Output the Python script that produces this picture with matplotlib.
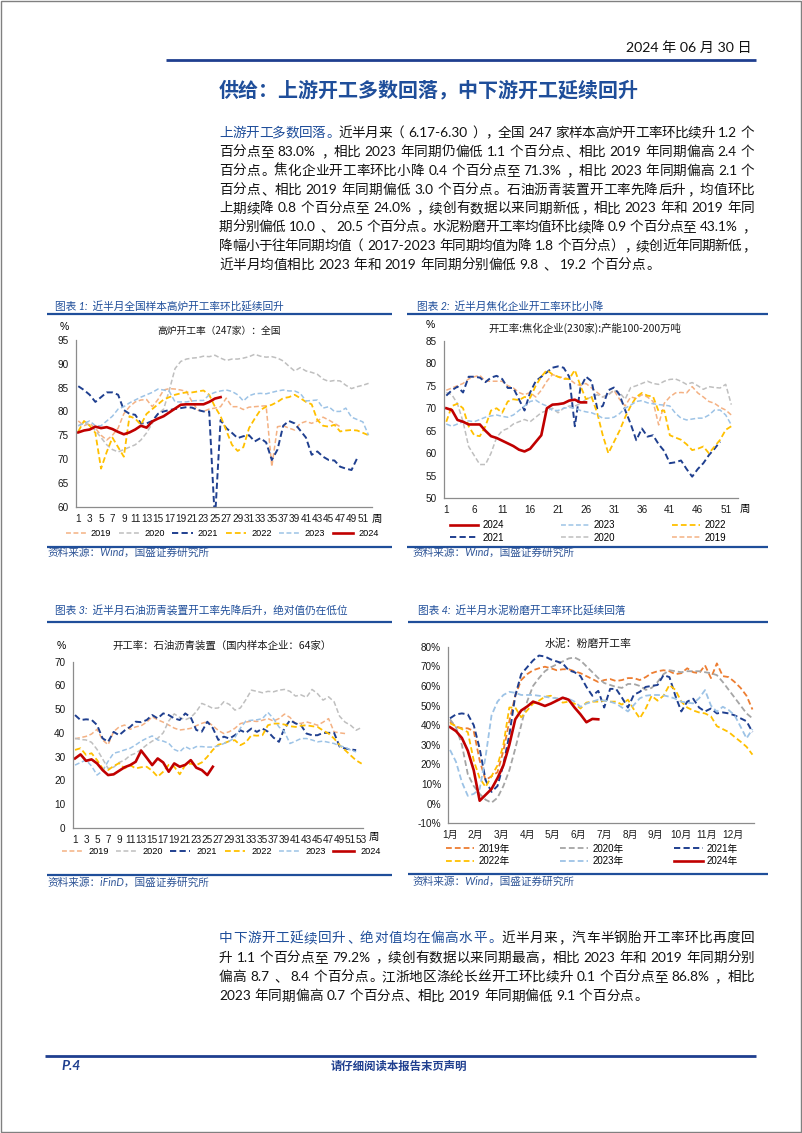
import matplotlib
matplotlib.use("Agg")
import matplotlib.pyplot as plt
from matplotlib.patches import Rectangle
from matplotlib.lines import Line2D
from matplotlib.ticker import FuncFormatter

plt.rcParams['font.family'] = ['Liberation Sans', 'Noto Sans CJK SC']
plt.rcParams['axes.unicode_minus'] = False

# ---------------- data ----------------
years = ['2019', '2020', '2021', '2022', '2023', '2024']

# Chart 1: blast furnace operating rate (247 mills), %
bf_2019 = [78.0, 77.0, 77.5, 76.5, 75.0, 74.0, 75.0, 76.5, 79.5, 81.0, 82.0, 82.4, 82.5, 81.0, 82.5, 84.5, 84.8, 84.7, 84.5, 84.2, 82.0, 80.3, 80.0, 80.5, 80.7, 81.0, 82.8, 81.0, 81.0, 80.4, 80.9, 81.0, 81.1, 81.2, 68.4, 76.8, 77.0, 76.5, 76.1, 77.5, 77.9, 77.5, 78.0, 78.8, 78.2, 77.5, 76.8]
bf_2020 = [77.0, 77.5, 77.2, 76.0, 74.5, 73.0, 72.0, 71.5, 72.0, 72.5, 73.0, 74.0, 75.5, 77.5, 79.5, 80.5, 84.5, 89.0, 90.5, 91.0, 91.2, 91.3, 91.6, 91.5, 91.8, 91.2, 90.7, 91.0, 91.0, 91.2, 91.5, 92.0, 91.6, 91.4, 91.5, 91.2, 90.6, 89.5, 88.5, 89.2, 88.5, 88.2, 87.8, 86.8, 86.3, 86.5, 86.4, 85.5, 84.8, 85.2, 85.5, 85.9]
bf_2021 = [85.3, 84.5, 83.5, 82.0, 83.0, 84.0, 84.0, 83.5, 80.3, 79.5, 79.3, 77.5, 77.5, 78.0, 79.5, 80.0, 80.3, 80.5, 80.7, 80.9, 80.8, 80.3, 80.0, 80.0, 57.0, 78.2, 76.5, 75.5, 74.4, 74.8, 75.0, 73.7, 74.4, 73.5, 69.8, 72.0, 77.0, 78.0, 77.5, 76.0, 74.5, 70.9, 71.6, 70.5, 69.8, 69.7, 68.4, 68.0, 67.7, 70.2]
bf_2022 = [75.8, 78.0, 77.0, 75.5, 68.0, 71.5, 74.5, 72.5, 70.5, 79.0, 78.5, 77.2, 79.5, 80.5, 81.5, 82.5, 83.0, 83.5, 83.8, 84.0, 84.0, 84.2, 84.4, 83.5, 81.0, 79.0, 76.0, 73.0, 71.7, 72.5, 76.5, 78.5, 80.3, 81.0, 81.4, 82.0, 82.8, 83.0, 83.5, 82.8, 82.0, 81.5, 78.2, 77.0, 76.8, 77.2, 75.8, 76.0, 76.1, 76.0, 75.5, 75.0]
bf_2023 = [77.0, 77.5, 78.0, 77.0, 77.0, 78.0, 79.0, 80.5, 81.0, 81.8, 82.4, 83.0, 83.5, 84.0, 84.7, 84.5, 84.2, 82.0, 82.0, 82.0, 82.2, 82.3, 82.3, 83.5, 84.0, 84.3, 84.5, 84.2, 83.5, 82.2, 83.3, 83.7, 83.8, 83.7, 84.0, 84.3, 84.5, 84.3, 84.3, 83.8, 82.2, 82.3, 82.4, 80.7, 81.0, 80.0, 80.0, 80.7, 78.8, 78.3, 77.8, 75.0]
bf_2024 = [75.6, 76.0, 76.2, 76.8, 76.5, 76.7, 76.3, 75.7, 75.2, 75.6, 76.2, 77.0, 76.6, 77.9, 78.5, 79.0, 79.8, 80.6, 81.4, 81.5, 81.5, 81.5, 81.5, 82.0, 82.7, 83.0]

# Chart 2: coking plants operating rate (230 plants), %
ck_2019 = [74.0, 74.5, 75.0, 75.5, 76.5, 77.0, 77.3, 76.0, 76.0, 76.0, 76.0, 75.0, 74.5, 73.5, 73.0, 73.5, 72.5, 74.0, 76.0, 77.5, 77.0, 76.8, 76.5, 75.5, 75.0, 75.5, 74.5, 73.5, 72.5, 73.0, 74.0, 72.0, 70.5, 72.5, 72.2, 73.0, 72.5, 71.5, 66.3, 71.1, 72.5, 73.4, 73.5, 73.4, 74.8, 73.4, 72.5, 71.5, 71.1, 70.2, 69.6, 68.5]
ck_2020 = [73.5, 73.0, 71.0, 67.0, 61.5, 59.5, 57.5, 57.5, 60.0, 63.5, 65.0, 65.5, 66.5, 67.0, 67.5, 67.0, 68.0, 69.0, 69.5, 70.0, 69.0, 70.0, 70.5, 70.5, 71.0, 72.0, 72.5, 73.0, 72.5, 73.0, 74.0, 73.5, 72.0, 74.6, 75.0, 75.5, 76.0, 75.5, 75.3, 76.0, 76.4, 76.5, 76.0, 75.3, 75.7, 75.0, 74.2, 74.8, 74.6, 74.5, 75.3, 70.8]
ck_2021 = [72.8, 74.0, 74.8, 73.5, 77.0, 77.0, 76.8, 75.8, 76.8, 77.2, 76.5, 74.5, 74.5, 72.0, 69.5, 73.5, 76.0, 77.0, 78.0, 79.0, 79.3, 79.0, 77.0, 66.0, 74.5, 77.0, 76.0, 70.0, 70.5, 74.0, 74.6, 73.0, 69.6, 66.5, 62.9, 65.5, 63.7, 64.0, 62.0, 60.5, 57.8, 58.0, 58.4, 56.5, 54.8, 56.5, 57.8, 59.6, 61.0, 62.6]
ck_2022 = [67.0, 70.5, 71.0, 70.0, 66.0, 64.0, 63.8, 66.0, 69.5, 70.0, 69.0, 71.5, 72.0, 71.8, 72.5, 72.3, 75.0, 77.0, 78.5, 77.5, 77.0, 76.5, 76.5, 78.5, 75.0, 72.0, 72.5, 69.0, 64.0, 60.0, 62.5, 65.0, 68.0, 70.5, 72.5, 73.4, 72.8, 72.6, 69.3, 69.5, 64.0, 63.5, 63.0, 62.0, 60.7, 61.0, 61.5, 60.0, 61.5, 63.0, 65.2, 66.0]
ck_2023 = [66.5, 66.0, 66.5, 67.0, 67.2, 67.0, 67.5, 68.0, 68.3, 68.5, 68.2, 68.0, 68.5, 69.5, 70.5, 71.5, 71.8, 71.0, 70.5, 69.5, 69.5, 70.0, 70.2, 70.0, 69.5, 69.2, 69.0, 68.5, 67.8, 67.8, 68.0, 68.8, 70.0, 70.7, 71.5, 71.7, 71.2, 71.0, 70.8, 70.7, 70.5, 68.9, 67.8, 67.4, 67.6, 67.8, 67.8, 68.5, 69.6, 69.6, 68.5, 66.3]
ck_2024 = [70.0, 69.6, 67.4, 67.0, 66.4, 66.4, 66.4, 65.0, 63.8, 63.4, 62.8, 62.2, 61.6, 60.8, 60.4, 61.0, 62.5, 64.0, 70.0, 70.8, 70.9, 71.1, 71.7, 71.9, 71.3, 71.3]

# Chart 3: petroleum asphalt plant operating rate (64 firms), %
as_2019 = [37.5, 38.0, 38.5, 39.5, 41.5, 37.0, 35.0, 40.5, 42.5, 43.3, 41.5, 42.5, 43.0, 44.5, 46.8, 45.5, 44.5, 43.3, 42.0, 41.2, 41.5, 41.9, 43.0, 44.0, 44.7, 43.0, 41.0, 39.7, 40.5, 41.9, 43.9, 44.5, 45.0, 44.8, 45.3, 46.0, 45.0, 46.0, 47.9, 46.5, 43.9, 44.0, 44.6, 44.0, 43.2, 44.5, 46.0, 40.4, 40.0, 39.7]
as_2020 = [37.7, 37.2, 37.0, 36.0, 33.0, 29.0, 25.0, 25.5, 27.5, 28.5, 30.5, 31.4, 33.0, 34.9, 36.5, 37.7, 40.0, 45.0, 48.0, 46.5, 45.5, 46.5, 48.9, 52.4, 51.5, 50.3, 50.5, 53.1, 52.0, 49.6, 50.5, 54.0, 58.0, 57.5, 56.9, 57.5, 57.3, 58.0, 58.3, 57.5, 55.5, 56.0, 55.0, 58.3, 56.5, 53.8, 55.2, 53.1, 47.0, 44.5, 43.2, 41.1, 42.3]
as_2021 = [47.5, 45.4, 45.7, 45.5, 43.3, 37.7, 36.2, 40.4, 39.0, 41.0, 42.5, 44.7, 44.5, 45.4, 47.5, 46.1, 48.2, 47.5, 46.1, 45.4, 48.2, 46.5, 41.2, 40.5, 44.7, 42.0, 37.0, 38.4, 37.6, 39.0, 41.1, 40.0, 41.8, 40.4, 41.8, 40.5, 38.0, 36.2, 42.0, 45.3, 44.0, 43.2, 39.7, 39.0, 39.0, 40.0, 40.0, 40.0, 34.2, 33.4, 33.0, 32.7]
as_2022 = [32.8, 33.5, 30.7, 31.4, 28.5, 25.0, 24.3, 26.0, 27.2, 25.0, 26.4, 25.0, 25.5, 25.7, 24.0, 21.5, 23.6, 26.5, 25.7, 22.5, 26.4, 27.0, 26.4, 27.5, 29.9, 32.8, 35.0, 35.6, 36.5, 36.9, 34.8, 36.0, 39.0, 38.8, 39.0, 43.2, 43.9, 43.9, 43.5, 42.8, 42.5, 43.0, 43.2, 42.8, 42.5, 41.0, 39.7, 37.6, 34.8, 32.7, 30.5, 28.4, 27.0]
as_2023 = [26.4, 27.5, 28.5, 26.0, 22.2, 24.0, 28.0, 31.4, 32.0, 32.8, 33.5, 34.9, 36.5, 37.7, 38.7, 37.0, 36.5, 35.6, 33.0, 32.0, 34.2, 33.0, 34.2, 34.2, 34.0, 34.0, 34.5, 35.5, 36.5, 38.0, 42.0, 45.0, 45.3, 45.5, 46.0, 48.6, 46.0, 42.5, 40.4, 35.5, 36.5, 37.6, 37.6, 37.0, 36.2, 36.5, 36.0, 35.5, 34.5, 34.0, 32.7, 32.0]
as_2024 = [29.2, 30.9, 28.2, 28.8, 27.1, 24.3, 22.2, 22.5, 24.0, 25.5, 26.4, 27.8, 32.5, 29.5, 26.4, 29.2, 27.5, 23.6, 27.1, 25.7, 26.5, 28.5, 25.3, 24.3, 22.2, 25.7]

# Chart 4: cement grinding operating rate, %
cm_2019 = [41.8, 39.2, 38.5, 38.4, 37.0, 22.0, 12.0, 14.0, 16.0, 27.0, 42.0, 55.0, 63.0, 66.0, 68.0, 69.0, 69.8, 69.0, 68.0, 68.5, 68.5, 67.5, 66.5, 65.0, 63.5, 62.0, 63.0, 63.5, 62.5, 63.0, 64.0, 64.0, 63.0, 64.5, 66.5, 67.5, 68.0, 67.5, 66.0, 66.5, 69.0, 67.0, 66.5, 70.5, 64.0, 71.5, 65.0, 64.5, 62.0, 59.0, 55.0, 48.0]
cm_2020 = [43.0, 39.0, 30.0, 15.0, 9.0, 5.0, 2.0, 0.5, 3.0, 9.0, 17.0, 28.0, 40.0, 52.0, 60.0, 64.0, 67.5, 69.5, 71.0, 72.5, 74.0, 74.5, 73.0, 70.0, 67.0, 64.0, 61.5, 60.5, 59.5, 59.0, 61.0, 61.0, 60.0, 58.0, 59.0, 62.0, 66.0, 68.0, 67.5, 67.0, 67.5, 67.5, 67.5, 67.0, 66.5, 65.5, 62.0, 58.0, 54.0, 50.0, 46.0, 43.5]
cm_2021 = [43.5, 45.5, 46.0, 45.5, 40.0, 28.0, 12.0, 6.0, 9.0, 20.0, 35.0, 55.0, 66.0, 69.5, 73.0, 75.5, 75.0, 73.5, 72.5, 71.5, 68.0, 67.0, 65.0, 59.5, 55.0, 57.5, 49.0, 58.5, 58.5, 54.0, 49.0, 55.5, 57.0, 59.5, 60.0, 60.5, 65.5, 64.5, 55.0, 47.0, 52.0, 53.5, 49.0, 47.0, 48.5, 46.0, 46.5, 46.0, 45.0, 43.5, 42.0, 36.5]
cm_2022 = [41.0, 39.5, 38.0, 36.5, 22.0, 13.0, 8.5, 14.0, 19.5, 30.0, 49.0, 49.0, 44.0, 47.5, 51.0, 52.5, 54.5, 55.0, 53.5, 51.5, 52.0, 51.0, 48.5, 51.5, 52.0, 52.0, 52.5, 52.0, 52.0, 50.5, 53.0, 48.0, 43.5, 48.5, 55.0, 52.5, 55.0, 60.5, 58.0, 52.0, 49.0, 47.5, 46.5, 46.0, 44.5, 39.5, 38.0, 36.5, 34.0, 31.6, 29.0, 25.0]
cm_2023 = [27.4, 21.4, 11.0, 4.0, 5.0, 7.5, 24.0, 45.0, 52.0, 55.4, 57.0, 56.5, 55.4, 55.4, 55.4, 55.0, 54.5, 54.0, 53.7, 54.0, 53.5, 52.0, 49.4, 51.0, 52.0, 53.0, 52.5, 52.0, 51.0, 49.0, 47.0, 50.3, 53.7, 55.0, 55.4, 55.4, 55.2, 54.5, 53.5, 52.0, 51.5, 51.1, 53.7, 57.9, 50.0, 46.9, 49.4, 47.7, 45.0, 39.2, 33.3, 38.0]
cm_2024 = [39.0, 37.0, 33.5, 27.0, 17.0, 1.5, 4.5, 7.5, 13.0, 19.5, 30.0, 43.0, 47.5, 49.5, 52.0, 51.0, 49.8, 51.0, 52.5, 54.0, 53.0, 49.0, 45.5, 41.5, 43.2, 43.0]

months = ['1月', '2月', '3月', '4月', '5月', '6月', '7月', '8月', '9月', '10月', '11月', '12月']

# ---------------- page ----------------
W, H = 802, 1133
fig = plt.figure(figsize=(W / 100, H / 100), dpi=100)
fig.patch.set_facecolor('white')
R = fig.canvas.get_renderer()

def fx(px):
    return px / W

def fy(py):
    return 1 - py / H

BLUE = '#1F4E9A'
DBLUE = '#1F3F8F'
TXT = ['Lato', 'Noto Sans CJK SC']
CJK = ['Noto Sans CJK SC']

fig.add_artist(Rectangle((fx(0.8), fy(1132)), fx(800.4), 1 - fy(1132) - fx(0) - 0.0007,
                         transform=fig.transFigure, fill=False, edgecolor='#808080', lw=1.0))

def hline(x0, x1, y, lw=1.6, color=BLUE):
    fig.add_artist(Line2D([fx(x0), fx(x1)], [fy(y), fy(y)], transform=fig.transFigure,
                          color=color, lw=lw, solid_capstyle='butt'))

# header
fig.text(fx(752), fy(48), '2024 年 06 月 30 日', fontsize=10.2, family=TXT,
         ha='right', va='center', color='#111111')
hline(166, 756, 59.5, lw=2.0, color='#1F3F8F')

fig.text(fx(219), fy(90), '供给：上游开工多数回落，中下游开工延续回升', fontsize=14.4,
         family=CJK, weight='bold', color=BLUE, ha='left', va='center')


def tokenize(segments):
    toks = []
    for s, c in segments:
        buf = ''
        for ch in s:
            if ord(ch) >= 0x2E80:
                if buf:
                    toks.append((buf, c))
                    buf = ''
                toks.append((ch, c))
            elif ch == ' ':
                if buf:
                    toks.append((buf, c))
                    buf = ''
            else:
                buf += ch
        if buf:
            toks.append((buf, c))
    return toks


def para_line(segments, yc, x0=219.0, x1=754.5, fs=9.8, justify=True):
    em = fs * 100 / 72
    toks = tokenize(segments)
    items = []
    for s, c in toks:
        if ord(s[0]) >= 0x2E80:
            items.append([s, c, em, True, None])
        else:
            t = fig.text(0, 0, s, fontsize=fs, family=TXT, color=c, va='baseline', ha='left')
            w = t.get_window_extent(R).width
            items.append([s, c, w, False, t])
    nat = []
    for i in range(len(items) - 1):
        nat.append(0.0 if (items[i][3] and items[i + 1][3]) else 0.28 * em)
    total = sum(it[2] for it in items) + sum(nat)
    extra = (x1 - x0 - total) / max(len(nat), 1) if justify else 0.0
    yb = fy(yc + 0.36 * em)
    x = x0
    for i, (s, c, w, iscjk, t) in enumerate(items):
        if iscjk:
            if s in '，。、；）':
                fig.text(fx(x + 0.08 * em), yb, s, fontsize=fs, family=CJK, color=c, ha='left', va='baseline')
            elif s == '：':
                fig.text(fx(x + 0.12 * em), yb, s, fontsize=fs, family=CJK, color=c, ha='left', va='baseline')
            elif s == '（':
                fig.text(fx(x + 0.92 * em), yb, s, fontsize=fs, family=CJK, color=c, ha='right', va='baseline')
            else:
                fig.text(fx(x + 0.5 * em), yb, s, fontsize=fs, family=CJK, color=c, ha='center', va='baseline')
        else:
            t.set_position((fx(x), yb))
        x += w
        if i < len(nat):
            x += nat[i] + extra


K = '#111111'
top_lines = [
    [('上游开工多数回落。', BLUE), ('近半月来（6.17-6.30），全国 247 家样本高炉开工率环比续升 1.2 个', K)],
    [('百分点至 83.0%，相比 2023 年同期仍偏低 1.1 个百分点、相比 2019 年同期偏高 2.4 个', K)],
    [('百分点。焦化企业开工率环比小降 0.4 个百分点至 71.3%，相比 2023 年同期偏高 2.1 个', K)],
    [('百分点、相比 2019 年同期偏低 3.0 个百分点。石油沥青装置开工率先降后升，均值环比', K)],
    [('上期续降 0.8 个百分点至 24.0%，续创有数据以来同期新低，相比 2023 年和 2019 年同', K)],
    [('期分别偏低 10.0、20.5 个百分点。水泥粉磨开工率均值环比续降 0.9 个百分点至 43.1%，', K)],
    [('降幅小于往年同期均值（2017-2023 年同期均值为降 1.8 个百分点），续创近年同期新低，', K)],
    [('近半月均值相比 2023 年和 2019 年同期分别偏低 9.8、19.2 个百分点。', K)],
]
top_y = [131.7, 151.0, 170.0, 189.0, 207.5, 226.3, 245.2, 264.0]
for i, (segs, yy) in enumerate(zip(top_lines, top_y)):
    para_line(segs, yy, justify=(i < len(top_lines) - 1))

bot_lines = [
    [('中下游开工延续回升、绝对值均在偏高水平。', BLUE), ('近半月来，汽车半钢胎开工率环比再度回', K)],
    [('升 1.1 个百分点至 79.2%，续创有数据以来同期最高，相比 2023 年和 2019 年同期分别', K)],
    [('偏高 8.7、8.4 个百分点。江浙地区涤纶长丝开工环比续升 0.1 个百分点至 86.8%，相比', K)],
    [('2023 年同期偏高 0.7 个百分点、相比 2019 年同期偏低 9.1 个百分点。', K)],
]
bot_y = [937.3, 956.7, 976.0, 995.5]
for i, (segs, yy) in enumerate(zip(bot_lines, bot_y)):
    para_line(segs, yy, justify=(i < len(bot_lines) - 1))

# footer
hline(45, 756, 1055.7, lw=2.0, color='#1F3F8F')
fig.text(fx(61), fy(1066), 'P.4', fontsize=10, family=TXT, weight='bold', style='italic',
         color=DBLUE, ha='left', va='center')
fig.text(fx(399), fy(1066), '请仔细阅读本报告末页声明', fontsize=8.2, family=CJK, weight='bold',
         color=DBLUE, ha='center', va='center')

# ---------------- chart helpers ----------------
CAP_C = '#1F4E9A'
SRC_C = '#2F5597'


def caption(x, y, s):
    fig.text(fx(x), fy(y), s, fontsize=7.7, family=TXT, style='italic', color=CAP_C,
             ha='left', va='center')


def source(x, y, s):
    fig.text(fx(x), fy(y), s, fontsize=7.7, family=TXT, style='italic', color=SRC_C,
             ha='left', va='center')


def make_ax(l, t, r, b):
    ax = fig.add_axes([fx(l), fy(b), fx(r) - fx(l), fy(t) - fy(b)])
    for s in ['top', 'right']:
        ax.spines[s].set_visible(False)
    for s in ['left', 'bottom']:
        ax.spines[s].set_color('#8C8C8C')
        ax.spines[s].set_linewidth(0.9)
    ax.tick_params(length=0, labelsize=7.2, colors='#1A1A1A')
    ax.tick_params(axis='y', pad=5.2)
    ax.tick_params(axis='x', pad=5.0)
    ax.set_facecolor('white')
    return ax


STY = {
    '2019': dict(color='#F4B183', lw=1.1, dash=True),
    '2020': dict(color='#BFBFBF', lw=1.1, dash=True),
    '2021': dict(color='#1F3F8F', lw=1.4, dash=True),
    '2022': dict(color='#FFC000', lw=1.3, dash=True),
    '2023': dict(color='#9DC3E6', lw=1.1, dash=True),
    '2024': dict(color='#C00000', lw=1.9, dash=False),
}


def draw_series(ax, series, styles):
    handles = {}
    for name, vals in series:
        st = styles[name]
        xs = list(range(1, len(vals) + 1))
        if st['dash']:
            ln, = ax.plot(xs, vals, color=st['color'], lw=st['lw'], dashes=(3.2, 1.7),
                          solid_capstyle='butt', dash_capstyle='butt')
        else:
            ln, = ax.plot(xs, vals, color=st['color'], lw=st['lw'], solid_joinstyle='round')
        handles[name] = ln
    return handles


def legend(ax, handles, labels, cx, cy, ncol, fs, hl, htp, cs, ls=0.3):
    ax.legend(handles, labels, loc='center', bbox_to_anchor=(fx(cx), fy(cy)),
              bbox_transform=fig.transFigure, ncol=ncol, frameon=False,
              prop=dict(family=['Liberation Sans', 'Noto Sans CJK SC'], size=fs),
              handlelength=hl, handletextpad=htp, columnspacing=cs, borderpad=0,
              borderaxespad=0, labelspacing=ls)


# ---------------- Chart 1 ----------------
caption(55, 306, '图表 1:  近半月全国样本高炉开工率环比延续回升')
hline(47, 392, 314)
ax1 = make_ax(76, 340, 372, 506.7)
h1 = draw_series(ax1, [('2019', bf_2019), ('2020', bf_2020), ('2021', bf_2021),
                       ('2022', bf_2022), ('2023', bf_2023), ('2024', bf_2024)], STY)
ax1.set_xlim(0.6, 52.6)
ax1.set_ylim(60, 95)
ax1.set_yticks(range(60, 96, 5))
ax1.set_xticks(range(1, 52, 2))
fig.text(fx(64), fy(327), '%', fontsize=7.5, ha='center', va='center')
fig.text(fx(219), fy(330.5), '高炉开工率（247家）：全国', fontsize=7.0, family=CJK,
         ha='center', va='center', color='#1A1A1A')
fig.text(fx(377), fy(519), '周', fontsize=7.5, family=CJK, ha='center', va='center')
legend(ax1, [h1[y] for y in years], years, 222, 534, 6, 6.6, 2.2, 0.55, 0.85)
hline(47, 392, 546.7)
source(47, 552, '资料来源：Wind，国盛证券研究所')

# ---------------- Chart 2 ----------------
caption(417, 306, '图表 2:  近半月焦化企业开工率环比小降')
hline(407, 768, 314)
ax2 = make_ax(444, 340.7, 738, 498.3)
h2 = draw_series(ax2, [('2019', ck_2019), ('2020', ck_2020), ('2021', ck_2021),
                       ('2022', ck_2022), ('2023', ck_2023), ('2024', ck_2024)], STY)
ax2.set_xlim(0.59, 53.2)
ax2.set_ylim(50, 85)
ax2.set_yticks(range(50, 86, 5))
ax2.set_xticks(range(1, 52, 5))
fig.text(fx(430), fy(325), '%', fontsize=7.5, ha='center', va='center')
fig.text(fx(585), fy(328.5), '开工率:焦化企业(230家):产能100-200万吨', fontsize=7.5, family=CJK,
         ha='center', va='center', color='#1A1A1A')
fig.text(fx(745), fy(509), '周', fontsize=7.5, family=CJK, ha='center', va='center')
order2 = ['2024', '2021', '2023', '2020', '2022', '2019']
legend(ax2, [h2[y] for y in order2], order2, 588, 531.5, 3, 7.0, 2.9, 0.42, 5.9, 0.28)
hline(407, 768, 546.7)
source(412, 552, '资料来源：Wind，国盛证券研究所')

# ---------------- Chart 3 ----------------
caption(55, 610, '图表 3:  近半月石油沥青装置开工率先降后升，绝对值仍在低位')
hline(47, 392, 621.7)
ax3 = make_ax(72.7, 661.7, 363.3, 827.7)
h3 = draw_series(ax3, [('2019', as_2019), ('2020', as_2020), ('2021', as_2021),
                       ('2022', as_2022), ('2023', as_2023), ('2024', as_2024)], STY)
ax3.set_xlim(0.58, 53.3)
ax3.set_ylim(0, 70)
ax3.set_yticks(range(0, 71, 10))
ax3.set_xticks(range(1, 54, 2))
fig.text(fx(61), fy(646), '%', fontsize=7.5, ha='center', va='center')
fig.text(fx(222), fy(646), '开工率：石油沥青装置（国内样本企业：64家）', fontsize=7.5, family=CJK,
         ha='center', va='center', color='#1A1A1A')
fig.text(fx(374), fy(837), '周', fontsize=7.5, family=CJK, ha='center', va='center')
legend(ax3, [h3[y] for y in years], years, 221, 852, 6, 6.6, 2.2, 0.7, 0.8)
hline(47, 392, 875)
source(47, 882, '资料来源：iFinD，国盛证券研究所')

# ---------------- Chart 4 ----------------
caption(418, 610, '图表 4:  近半月水泥粉磨开工率环比延续回落')
hline(408, 768, 622.3)
STY4 = dict(STY)
STY4['2019'] = dict(color='#ED7D31', lw=1.3, dash=True)
STY4['2020'] = dict(color='#A5A5A5', lw=1.3, dash=True)
STY4['2021'] = dict(color='#1F3F8F', lw=1.4, dash=True)
STY4['2022'] = dict(color='#FFC000', lw=1.3, dash=True)
STY4['2023'] = dict(color='#9DC3E6', lw=1.3, dash=True)
ax4 = make_ax(448.3, 646.7, 754, 823.3)
h4 = draw_series(ax4, [('2019', cm_2019), ('2020', cm_2020), ('2021', cm_2021),
                       ('2022', cm_2022), ('2023', cm_2023), ('2024', cm_2024)], STY4)
ax4.set_xlim(0.71, 52.26)
ax4.set_ylim(-10, 80)
ax4.set_yticks(range(-10, 81, 10))
ax4.yaxis.set_major_formatter(FuncFormatter(lambda v, p: f'{int(round(v))}%'))
ax4.set_xticks([1 + m * 52 / 12 for m in range(12)])
ax4.set_xticklabels(months)
ax4.tick_params(axis='x', labelsize=7.2)
fig.text(fx(588.5), fy(644), '水泥：粉磨开工率', fontsize=7.8, family=CJK,
         ha='center', va='center', color='#1A1A1A')
order4 = ['2019', '2022', '2020', '2023', '2021', '2024']
legend(ax4, [h4[y] for y in order4], [y + '年' for y in order4], 592, 855, 3, 7.0, 2.9, 0.42, 5.2, 0.28)
hline(408, 768, 874.3)
source(412, 881.7, '资料来源：Wind，国盛证券研究所')

fig.savefig('out.png', dpi=100, facecolor='white')
